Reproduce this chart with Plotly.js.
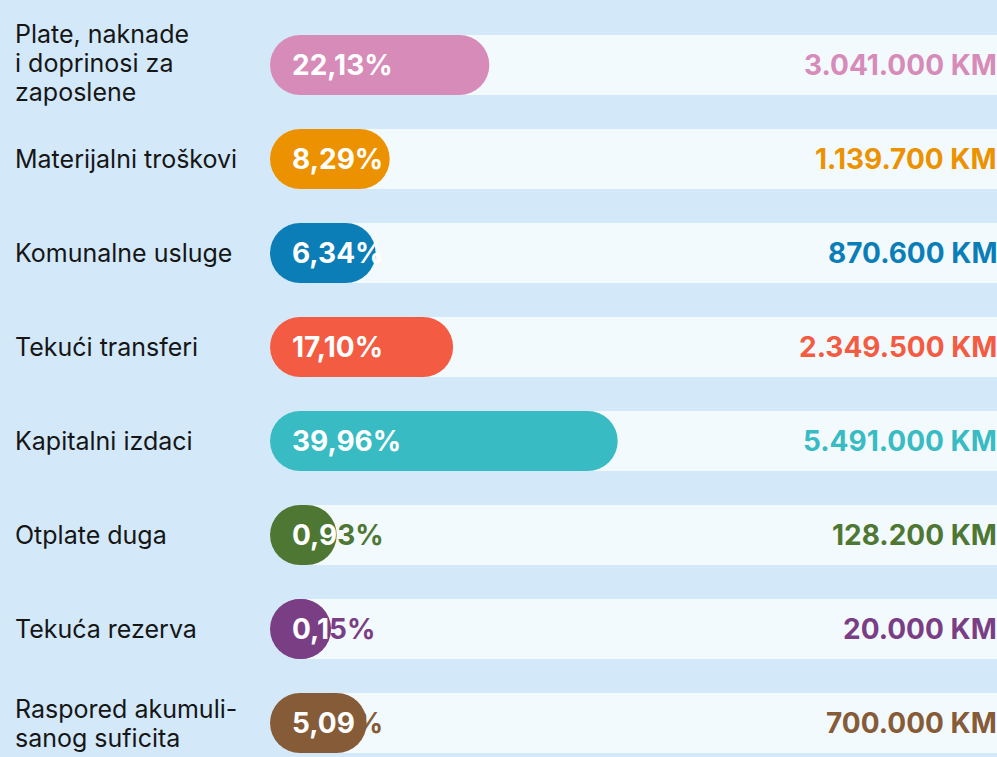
<!DOCTYPE html>
<html><head><meta charset="utf-8">
<script src="https://cdn.plot.ly/plotly-3.0.1.min.js"></script>
<style>html,body{margin:0;padding:0;background:#d3e9fa;}#chart{width:997px;height:757px;}</style>
</head><body><div id="chart"></div>
<script>
// ---- data ----
const categories = ["Plate, naknade<br>i doprinosi za<br>zaposlene", "Materijalni troškovi", "Komunalne usluge", "Tekući transferi", "Kapitalni izdaci", "Otplate duga", "Tekuća rezerva", "Raspored akumuli-<br>sanog suficita"];
const percents = [22.13, 8.29, 6.34, 17.10, 39.96, 0.93, 0.15, 5.09];
const amounts = [3041000, 1139700, 870600, 2349500, 5491000, 128200, 20000, 700000];
const colors = ["#d68bb8", "#ec9200", "#0b7eb8", "#f35b42", "#38bbc3", "#4e7733", "#7a3e85", "#865b38"];

// ---- layout constants ----
const W = 997, H = 757, ML = 270, PW = W - ML;
const BAR_PX = 60, CAP = BAR_PX / 2;
const PX_PER_UNIT = 7.2;
const X0 = -CAP / PX_PER_UNIT, X1 = X0 + PW / PX_PER_UNIT;
const ROW = 94, FIRST = 65;
const Y_TOP = -FIRST / ROW, Y_BOT = (H - FIRST) / ROW;
const TRACK = "#f3fafe";
const TXT_X = 290;
const LINE_GAP = 29;
const FONT = "Inter, 'Open Sans', sans-serif";

const fmtPct = p => p.toFixed(2).replace('.', ',') + '%';
const fmtAmt = a => String(a).replace(/\B(?=(\d{3})+(?!\d))/g, '.') + ' KM';

const traces = [];
categories.forEach((c, i) => {
  traces.push({type: 'scatter', mode: 'lines+markers', x: [0, X1 + 10], y: [c, c],
    line: {color: TRACK, width: BAR_PX}, marker: {color: TRACK, size: [BAR_PX, 0], line: {width: 0}},
    hoverinfo: 'skip', cliponaxis: false});
});
categories.forEach((c, i) => {
  traces.push({type: 'scatter', mode: 'lines+markers', x: [0, percents[i]], y: [c, c],
    line: {color: colors[i], width: BAR_PX}, marker: {color: colors[i], size: BAR_PX, line: {width: 0}},
    hoverinfo: 'skip', cliponaxis: false});
});

const ctx = document.createElement('canvas').getContext('2d');
ctx.font = "700 28px Inter";
function colouredPct(i) {
  const s = fmtPct(percents[i]);
  const barEnd = ML + CAP + percents[i] * PX_PER_UNIT + CAP;
  let out = '', acc = 0;
  for (const ch of s) {
    const w = ctx.measureText(ch).width;
    const centre = TXT_X + 2 + acc + w / 2;
    out += centre < barEnd ? ch : '<span style="color:' + colors[i] + '">' + ch + '</span>';
    acc += w;
  }
  return out;
}

const ann = [];
categories.forEach((c, i) => {
  const lines = c.split('<br>');
  lines.forEach((ln, j) => {
    ann.push({xref: 'paper', yref: 'y', x: (13 - ML) / PW, y: c, text: ln, showarrow: false,
      yshift: ((lines.length - 1) / 2 - j) * LINE_GAP + (lines.length > 2 ? 2 : 0),
      xanchor: 'left', yanchor: 'middle', align: 'left', font: {family: FONT, size: 25, color: '#161616'}});
  });
  ann.push({xref: 'paper', yref: 'y', x: (TXT_X - ML) / PW, y: c, text: colouredPct(i), showarrow: false,
    xanchor: 'left', yanchor: 'middle', font: {family: FONT, size: 28, color: '#ffffff', weight: 700}});
  ann.push({xref: 'paper', yref: 'y', x: (PW + 2) / PW, y: c, text: fmtAmt(amounts[i]), showarrow: false,
    xanchor: 'right', yanchor: 'middle', font: {family: FONT, size: 28, color: colors[i], weight: 700}});
});

const layout = {
  width: W, height: H, margin: {l: ML, r: 0, t: 0, b: 0, pad: 0},
  paper_bgcolor: '#d3e9fa', plot_bgcolor: 'rgba(0,0,0,0)', showlegend: false, hovermode: false,
  xaxis: {range: [X0, X1], visible: false, fixedrange: true},
  yaxis: {type: 'category', range: [Y_BOT, Y_TOP], visible: false, fixedrange: true},
  annotations: ann
};
Plotly.newPlot('chart', traces, layout, {staticPlot: true, displayModeBar: false});
</script></body></html>
